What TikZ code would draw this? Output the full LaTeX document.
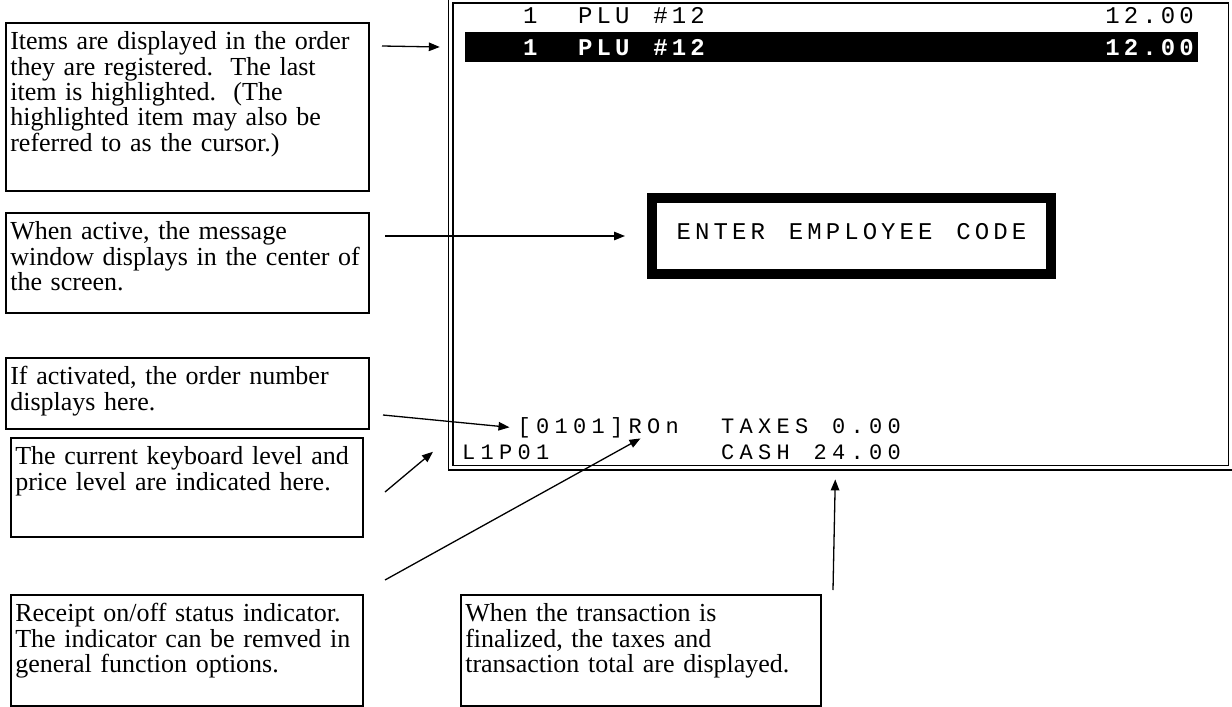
\documentclass[tikz,border=0pt]{standalone}
\usepackage{fontspec}
\setmainfont{Liberation Serif}
\newfontfamily\lcdfont[LetterSpace=17,WordSpace=1.29]{Liberation Mono}
\newfontfamily\lcdsmall[LetterSpace=24]{Liberation Mono}
\usetikzlibrary{arrows.meta, positioning, calc}

\begin{document}
\begin{tikzpicture}[x=1pt, y=-1pt,
    note/.style={draw, line width=1.6pt, anchor=north west, align=left,
        inner xsep=4.5pt, inner ysep=2pt, text height=25pt,
        font=\fontsize{26}{25.3}\selectfont},
    lcd/.style={inner sep=0pt, anchor=base west,
        font=\lcdfont\fontsize{24}{24}\selectfont},
    lcdbold/.style={lcd, text=white,
        font=\lcdfont\fontsize{24}{24}\selectfont\bfseries},
    status/.style={inner sep=0pt, anchor=base west,
        font=\lcdsmall\fontsize{22}{22}\selectfont},
    pointer/.style={-{Triangle[length=11pt, width=8.5pt]}, line width=1.3pt}
]
\useasboundingbox (0,0) rectangle (1232,707);

% explanation boxes
\node[note, text width=354pt, text depth=139pt] (items) at (5,22)
    {Items are displayed in the order\\
     they are registered.\ \ The last\\
     item is highlighted.\ \ (The\\
     highlighted item may also be\\
     referred to as the cursor.)};
\node[note, text width=354pt, text depth=71pt] (msgnote) at (5,212)
    {When active, the message\\
     window displays in the center of\\
     the screen.};
\node[note, text width=354pt, text depth=42pt] (ordnote) at (5,357)
    {If activated, the order number\\
     displays here.};
\node[note, text width=343pt, text depth=70pt] (levelnote) at (10,437)
    {The current keyboard level and\\
     price level are indicated here.};
\node[note, text width=343pt, text depth=82pt] (rcptnote) at (10,594)
    {Receipt on/off status indicator.\\
     The indicator can be remved in\\
     general function options.};
\node[note, text width=351pt, text depth=82pt] (totalnote) at (460,594)
    {When the transaction is\\
     finalized, the taxes and\\
     transaction total are displayed.};

% the screen
\node[draw, double, line width=1.6pt, double distance=2.6pt, inner sep=0pt,
    minimum width=780pt, minimum height=467pt] (screen) at (840.6,234.1) {};
\node[fill=black, inner sep=0pt, minimum width=733pt,
    minimum height=30pt] (cursor) at (831.5,47) {};

\node[lcd] (qtyA) at (523,23) {1};
\node[lcd] (pluA) at (578,23) {PLU \#12};
\node[lcd, anchor=base east] (amtA) at (1194,23) {12.00};
\node[lcdbold] (qtyB) at (523,55) {1};
\node[lcdbold] (pluB) at (578,55) {PLU \#12};
\node[lcdbold, anchor=base east] (amtB) at (1194,55) {12.00};

\node[draw, line width=10pt, minimum width=399pt, minimum height=76pt,
    text depth=10pt, font=\lcdfont\fontsize{24}{24}\selectfont]
    (msg) at (851.5,236) {ENTER EMPLOYEE CODE};

\node[status] (ordno) at (517.5,433) {[0101]};
\node[status] (rcpt) at (628.5,433) {ROn};
\node[status] (taxes) at (721,433) {TAXES};
\node[status] (taxamt) at (832,433) {0.00};
\node[status] (level) at (462,459) {L1P01};
\node[status] (cash) at (721,459) {CASH};
\node[status] (cashamt) at (813.5,459) {24.00};

% arrows
\coordinate (c-items) at (382,46);
\coordinate (c-msg) at (385,236);
\coordinate (c-ord) at (383,415);
\coordinate (c-level) at (385,492);
\coordinate (c-rcpt) at (385,580);
\coordinate (c-total) at (833,590);

\draw[pointer] (c-items) -- ([xshift=-25pt]cursor.west);
\draw[pointer] (c-msg) -- ([xshift=-22pt]msg.west);
\draw[pointer] (c-ord) -- ([xshift=-8pt]ordno.west);
\draw[pointer] (c-level) -- ([xshift=-29pt]level.west);
\draw[pointer] (c-rcpt) -- ([xshift=12pt, yshift=-5pt]rcpt.south west);
\draw[pointer] (c-total) -- ([xshift=-22pt, yshift=-20pt]cashamt.south);
\end{tikzpicture}
\end{document}
